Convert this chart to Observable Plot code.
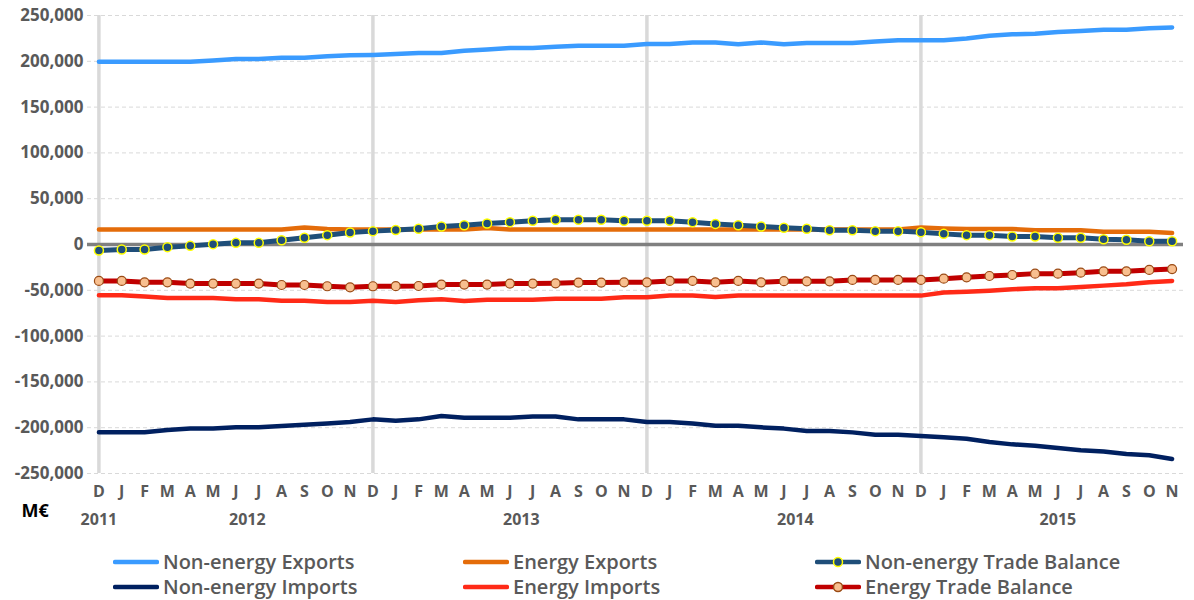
<!DOCTYPE html>
<html>
<head>
<meta charset="utf-8">
<script src="https://cdn.jsdelivr.net/npm/d3@7"></script>
<script src="https://cdn.jsdelivr.net/npm/@observablehq/plot@0.6"></script>
<style>
  html, body { margin: 0; padding: 0; background: #fff; }
  #wrap { position: relative; width: 1194px; height: 600px; font-family: "Open Sans", sans-serif; }
  #legend { position: absolute; left: 0; top: 540px; width: 1194px; height: 60px; }
  .item { position: absolute; display: flex; align-items: center; font-size: 20px; font-weight: 600; color: #595959; white-space: nowrap; }
  .item svg { margin-right: 4px; }
</style>
</head>
<body>
<div id="wrap"><div id="chart"></div><div id="legend"></div></div>
<script>
// Month category labels (Dec 2011 – Nov 2015)
const monthLabels = ["D","J","F","M","A","M","J","J","A","S","O","N",
                     "D","J","F","M","A","M","J","J","A","S","O","N",
                     "D","J","F","M","A","M","J","J","A","S","O","N",
                     "D","J","F","M","A","M","J","J","A","S","O","N"];
const firstYear = 2011;
const yTicks = [250000, 200000, 150000, 100000, 50000, 0, -50000, -100000, -150000, -200000, -250000];

// Series values, M€
const nonEnergyExports = [199500,199500,199500,199500,199500,201000,202500,202500,204000,204000,205500,206500,
  207000,208000,209000,209000,211500,213000,214500,214500,216000,217000,217000,217000,
  219000,219000,220500,220500,218500,220500,218500,220000,220000,220000,221500,223000,
  223000,223000,225000,228000,229500,230000,232000,233000,234500,234500,236000,237000];
const energyExports = [16500,16500,16500,16500,16500,16500,16500,16500,16500,18500,17000,16500,
  16500,16500,16500,16500,16500,18000,16500,16500,16500,16500,16500,16500,
  16500,16500,16500,16500,16500,16500,16500,16500,16500,16500,16500,16500,
  18500,17500,17000,17000,17000,15500,15500,15500,14000,14000,14000,12500];
const nonEnergyImports = [-205000,-205000,-205000,-202500,-201000,-201000,-199600,-199600,-198200,-196700,-195300,-193800,
  -190900,-192500,-190900,-187300,-189100,-189100,-189100,-187700,-187700,-190900,-190900,-190900,
  -193800,-193800,-195300,-197800,-197800,-199600,-201000,-203600,-203600,-205100,-207600,-207600,
  -209100,-210500,-212000,-215600,-218200,-219600,-222200,-224700,-226100,-228700,-230100,-234100];
const energyImports = [-55400,-55400,-56900,-58400,-58400,-58400,-59800,-59800,-61300,-61300,-62700,-62700,
  -61300,-62900,-60900,-59800,-61600,-60200,-60200,-60200,-59100,-59100,-59100,-57600,
  -57600,-55800,-55800,-57300,-55800,-55800,-55800,-55800,-55800,-55800,-55800,-55800,
  -55800,-52500,-51500,-50400,-48900,-47800,-47800,-46400,-44900,-43500,-41300,-39800];
const nonEnergyBalance = [-6500,-5500,-5500,-2900,-1500,400,1800,1800,4700,7300,10200,13100,
  14600,15800,17100,19600,21000,22900,24400,25900,27000,27000,27000,25900,
  25900,25900,24400,22500,21000,19600,18300,17100,15600,15600,14600,14600,
  13500,11600,10200,10200,8700,8700,7300,7300,5800,5100,3600,3600];
const energyBalance = [-39800,-39800,-41300,-41300,-42700,-42700,-42700,-42700,-44200,-44200,-45600,-46700,
  -45600,-45500,-45300,-43800,-43800,-43800,-42700,-42700,-42400,-41600,-41600,-41300,
  -41300,-39800,-39800,-41300,-39800,-41300,-40000,-40200,-40200,-38700,-38700,-38700,
  -38700,-37300,-35800,-34400,-33300,-31800,-31800,-30800,-29300,-29300,-27800,-26800];

const seriesNames = ["Non-energy Exports","Energy Exports","Non-energy Trade Balance",
                     "Non-energy Imports","Energy Imports","Energy Trade Balance"];
const C = {
  "Non-energy Exports": "#3a9bff",
  "Energy Exports": "#e46c0a",
  "Non-energy Imports": "#002060",
  "Energy Imports": "#ff2a17",
  "Non-energy Trade Balance": "#1f4e79",
  "Energy Trade Balance": "#c00000"
};

const toRows = (vals) => vals.map((v, i) => ({i, v}));

// derive year groups from month labels
const monthYear = [];
{ let y = firstYear; monthLabels.forEach((m, i) => { if (m === "J" && i > 0 && monthLabels[i-1] === "D") y++; monthYear.push(y); }); }
const yearGroups = d3.groups(monthLabels.map((m, i) => ({i, y: monthYear[i]})), d => d.y)
  .map(([y, arr]) => ({year: String(y), i: d3.mean(arr, d => d.i)}));
const decIdx = monthLabels.map((m, i) => m === "D" ? i : null).filter(d => d !== null);

const FONT = "Open Sans";
const chart = Plot.plot({
  width: 1194,
  height: 540,
  marginLeft: 87,
  marginRight: 11,
  marginTop: 15,
  marginBottom: 67,
  style: {fontFamily: FONT, background: "#fff", overflow: "visible"},
  x: {type: "linear", domain: [-0.5, monthLabels.length - 0.5]},
  y: {domain: [-250000, 250000]},
  marks: [
    Plot.ruleY(yTicks.filter(d => d !== 0), {stroke: "#d9d9d9", strokeWidth: 1, strokeDasharray: "4,3"}),
    Plot.ruleX(decIdx, {y1: -250000, y2: 250000, stroke: "#d9d9d9", strokeWidth: 3.5}),
    Plot.ruleY([0], {stroke: "#808080", strokeWidth: 3.5}),
    Plot.line(toRows(nonEnergyExports), {x: "i", y: "v", stroke: C["Non-energy Exports"], strokeWidth: 4.5, strokeLinejoin: "round", strokeLinecap: "round"}),
    Plot.line(toRows(energyExports), {x: "i", y: "v", stroke: C["Energy Exports"], strokeWidth: 4.5, strokeLinejoin: "round", strokeLinecap: "round"}),
    Plot.line(toRows(nonEnergyImports), {x: "i", y: "v", stroke: C["Non-energy Imports"], strokeWidth: 4.5, strokeLinejoin: "round", strokeLinecap: "round"}),
    Plot.line(toRows(energyImports), {x: "i", y: "v", stroke: C["Energy Imports"], strokeWidth: 4.5, strokeLinejoin: "round", strokeLinecap: "round"}),
    Plot.line(toRows(nonEnergyBalance), {x: "i", y: "v", stroke: C["Non-energy Trade Balance"], strokeWidth: 5, strokeLinejoin: "round", strokeLinecap: "round"}),
    Plot.dot(toRows(nonEnergyBalance), {x: "i", y: "v", r: 4.5, fill: "#1f4e79", stroke: "#ffff00", strokeWidth: 1.5}),
    Plot.line(toRows(energyBalance), {x: "i", y: "v", stroke: C["Energy Trade Balance"], strokeWidth: 5, strokeLinejoin: "round", strokeLinecap: "round"}),
    Plot.dot(toRows(energyBalance), {x: "i", y: "v", r: 4.5, fill: "#f8bf8f", stroke: "#9a4a14", strokeWidth: 1.2}),
    Plot.axisY({ticks: yTicks, tickSize: 0, tickPadding: 4, label: null,
      tickFormat: d => d.toLocaleString("en-US"),
      fontSize: 17, fontWeight: "bold", fill: "#595959"}),
    Plot.axisX({ticks: d3.range(monthLabels.length), tickSize: 0, tickPadding: 12, label: null,
      tickFormat: i => monthLabels[i], fontSize: 16, fontWeight: "bold", fill: "#595959"}),
    Plot.text(yearGroups, {x: "i", text: "year", frameAnchor: "bottom", dy: 51,
      fontSize: 16, fontWeight: "bold", fill: "#595959"}),
    Plot.text(["M€"], {frameAnchor: "bottom-left", textAnchor: "start", dx: -66, dy: 43, text: d => d,
      fontSize: 18, fontWeight: "bold", fill: "#000"})
  ]
});
document.getElementById("chart").appendChild(chart);

// Legend
const legendPos = {
  "Non-energy Exports": [113, 0], "Energy Exports": [463, 0], "Non-energy Trade Balance": [815, 0],
  "Non-energy Imports": [113, 1], "Energy Imports": [463, 1], "Energy Trade Balance": [815, 1]
};
const markerStyle = {
  "Non-energy Trade Balance": {fill: "#1f4e79", stroke: "#ffff00"},
  "Energy Trade Balance": {fill: "#f8bf8f", stroke: "#9a4a14"}
};
const legend = document.getElementById("legend");
seriesNames.forEach(name => {
  const [x, row] = legendPos[name];
  const div = document.createElement("div");
  div.className = "item";
  div.style.left = x + "px";
  div.style.top = (row === 0 ? 8 : 33) + "px";
  const m = markerStyle[name];
  div.innerHTML = `<svg width="46" height="14"><line x1="2" x2="44" y1="7" y2="7" stroke="${C[name]}" stroke-width="4.5" stroke-linecap="round"/>` +
    (m ? `<circle cx="23" cy="7" r="4.5" fill="${m.fill}" stroke="${m.stroke}" stroke-width="1.5"/>` : "") +
    `</svg><span>${name}</span>`;
  legend.appendChild(div);
});
</script>
</body>
</html>
